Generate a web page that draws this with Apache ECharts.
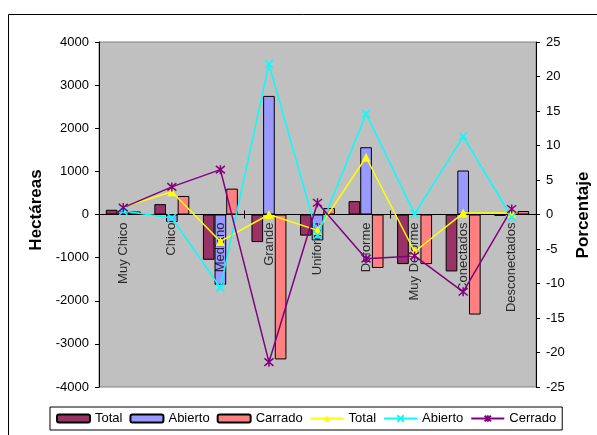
<!DOCTYPE html>
<html>
<head>
<meta charset="utf-8">
<script src="https://cdn.jsdelivr.net/npm/echarts@6/dist/echarts.min.js"></script>
<style>
  html, body { margin: 0; padding: 0; background: #fff; }
  #chart { width: 597px; height: 435px; }
</style>
</head>
<body>
<div id="chart"></div>
<script>
// Categorías de forma y conectividad
const categories = ['Muy Chico', 'Chico', 'Mediano', 'Grande', 'Uniforme', 'Deforme', 'Muy Deforme', 'Conectados', 'Desconectados'];

// Cambio en hectáreas (eje izquierdo)
const haTotal   = [110, 240, -1050, -640, -490, 310, -1150, -1320, -30];
const haAbierto = [80, -175, -1630, 2750, -600, 1560, 0, 1020, 10];
const haCarrado = [70, 430, 600, -3360, 150, -1240, -1150, -2320, 80];

// Cambio porcentual (eje derecho)
const pctTotal   = [1.1, 3.3, -3.9, 0.0, -2.3, 8.3, -5.4, 0.2, 0.2];
const pctAbierto = [0.5, -0.5, -10.6, 21.8, -3.0, 14.6, 0.1, 11.3, -0.4];
const pctCerrado = [1.0, 4.0, 6.5, -21.4, 1.7, -6.4, -6.0, -11.2, 0.8];

// Escalas de los ejes
const leftMin = -4000, leftMax = 4000, leftStep = 1000;
const rightMin = -25, rightMax = 25, rightStep = 5;

const FONT = 'Liberation Sans, Arial, sans-serif';
const xMarker = 'path://M0,0L10,10M10,0L0,10';
const starMarker = 'path://M0,0L10,10M10,0L0,10M5,-1L5,11';

function barSeries(name, data, color) {
  return {
    name, type: 'bar', data, xAxisIndex: 0, yAxisIndex: 0,
    barGap: '0%', barCategoryGap: '28%',
    itemStyle: { color, borderColor: '#000', borderWidth: 1 },
    z: 2
  };
}

function lineSeries(name, data, color, symbol, size, filled) {
  return {
    name, type: 'line', data, xAxisIndex: 0, yAxisIndex: 1,
    symbol, symbolSize: size, showAllSymbol: true,
    lineStyle: { color, width: 1.5 },
    itemStyle: filled
      ? { color, borderColor: color, borderWidth: 0 }
      : { color: 'rgba(0,0,0,0)', borderColor: color, borderWidth: 1.5 },
    emphasis: { disabled: true },
    z: 5
  };
}

const chart = echarts.init(document.getElementById('chart'), null, { renderer: 'canvas' });

chart.setOption({
  animation: false,
  backgroundColor: '#fff',
  textStyle: { fontFamily: FONT },
  graphic: [
    { type: 'rect', shape: { x: 8.5, y: 14.5, width: 620, height: 440 },
      style: { fill: 'none', stroke: '#000', lineWidth: 1 }, z: -10 },
    { type: 'text', x: 36, y: 210, rotation: Math.PI / 2,
      style: { text: 'Hectáreas', font: 'bold 17px ' + FONT, fill: '#000', align: 'center', verticalAlign: 'middle' } },
    { type: 'text', x: 583, y: 215, rotation: Math.PI / 2,
      style: { text: 'Porcentaje', font: 'bold 17px ' + FONT, fill: '#000', align: 'center', verticalAlign: 'middle' } }
  ],
  grid: {
    left: 99, right: 61, top: 42, bottom: 48,
    outerBoundsMode: 'none', containLabel: false,
    show: true, backgroundColor: '#C0C0C0', borderColor: '#808080', borderWidth: 1
  },
  legend: {
    left: 50, top: 407,
    backgroundColor: '#fff', borderColor: '#000', borderWidth: 1,
    padding: [5, 6], itemGap: 7, itemWidth: 33, itemHeight: 8,
    textStyle: { fontSize: 13, color: '#000', fontFamily: FONT },
    formatter: n => n.trim(),
    data: ['Total', 'Abierto', 'Carrado', 'Total ', 'Abierto ', 'Cerrado']
  },
  xAxis: [
    {
      type: 'category', data: categories, position: 'bottom', z: 3,
      axisLine: { onZero: true, lineStyle: { color: '#000', width: 1 } },
      axisTick: { show: true, length: 4, lineStyle: { color: '#000' } },
      axisLabel: { show: false },
      splitLine: { show: false }
    },
    {
      type: 'category', data: categories, position: 'bottom', z: 3,
      axisLine: { onZero: true, lineStyle: { color: '#000', width: 1 } },
      axisTick: { show: true, inside: true, length: 4, lineStyle: { color: '#000' } },
      axisLabel: { show: false },
      splitLine: { show: false }
    }
  ],
  yAxis: [
    {
      type: 'value', min: leftMin, max: leftMax, interval: leftStep, position: 'left',
      axisLine: { show: true, lineStyle: { color: '#000' } },
      axisTick: { show: true, length: 4, lineStyle: { color: '#000' } },
      axisLabel: { margin: 10, fontSize: 13, color: '#000', fontFamily: FONT, formatter: v => String(v) },
      splitLine: { show: false }
    },
    {
      type: 'value', min: rightMin, max: rightMax, interval: rightStep, position: 'right',
      axisLine: { show: true, lineStyle: { color: '#000' } },
      axisTick: { show: true, length: 4, lineStyle: { color: '#000' } },
      axisLabel: { margin: 10, fontSize: 13, color: '#000', fontFamily: FONT, formatter: v => String(v) },
      splitLine: { show: false }
    }
  ],
  series: [
    barSeries('Total', haTotal, '#993366'),
    barSeries('Abierto', haAbierto, '#9999FF'),
    barSeries('Carrado', haCarrado, '#FF8080'),
    // Nombres de categoría colgando de la línea de cero
    {
      type: 'scatter', xAxisIndex: 0, yAxisIndex: 0, silent: true, z: 4,
      symbolSize: 0,
      data: categories.map(c => [c, 0]),
      label: {
        show: true, position: [0, 8], rotate: 90, align: 'right', verticalAlign: 'middle',
        fontSize: 13, color: '#000', fontFamily: FONT,
        formatter: p => p.value[0]
      }
    },
    lineSeries('Total ', pctTotal, '#FFFF00', 'triangle', 9, true),
    lineSeries('Abierto ', pctAbierto, '#00FFFF', xMarker, 8, false),
    lineSeries('Cerrado', pctCerrado, '#800080', starMarker, 9, false)
  ]
});
</script>
</body>
</html>
